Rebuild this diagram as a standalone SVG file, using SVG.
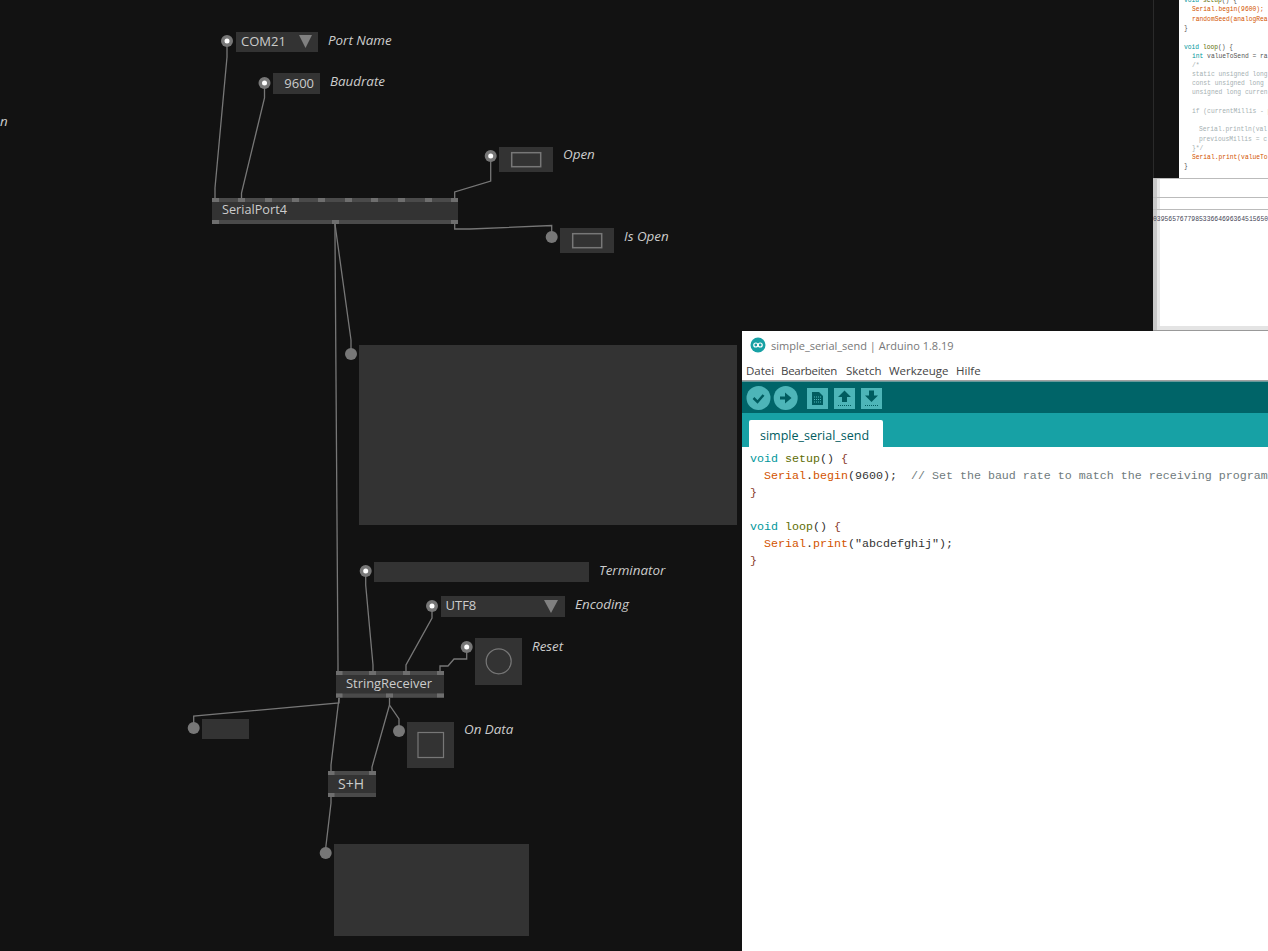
<svg xmlns="http://www.w3.org/2000/svg" width="1268" height="951" viewBox="0 0 1268 951">
<style>
.ui{font-family:"Open Sans","Noto Sans","Liberation Sans",sans-serif}
.box{fill:#333}
.bar{fill:#4a4a4a}
.pin{fill:#6e6e6e}
.val{font-family:"Open Sans","Liberation Sans",sans-serif;font-size:13px;fill:#ccc}
.lbl{font-family:"Open Sans","Liberation Sans",sans-serif;font-size:13.400px;font-style:italic;fill:#ccc}
.name{font-family:"Open Sans","Liberation Sans",sans-serif;font-size:12.700px;fill:#ccc}
.dot{fill:#777}
.in{fill:#fff}
.tri{fill:#808080}
.sh{fill:none;stroke:#777;stroke-width:1.5}
.wire{fill:none;stroke:#777;stroke-width:1.3}
.menu{font-family:"Open Sans","Liberation Sans",sans-serif;font-size:11.500px;fill:#444}
.code{font-family:"Liberation Mono",monospace;font-size:11.670px;white-space:pre;fill:#333}
.mini{font-family:"Liberation Mono",monospace;font-size:6.300px;white-space:pre;fill:#555}
.k{fill:#00979c}.f{fill:#5e6d03}.o{fill:#d35400}.c{fill:#6f7b7d}.cm{fill:#a5b0b2}.b{fill:#8a3a2a}
.btn{fill:#4db5b8}
.ic{fill:#005c5f}
</style>
<rect width="1268" height="951" fill="#121212"/>

<g id="bg-serial-monitor">
<rect x="1153" y="0" width="1" height="178" fill="#2a2a2a"/>
<rect x="1179" y="0" width="89" height="178" fill="#fff"/>
<text class="mini" x="1184" y="2"><tspan class="k">void</tspan> <tspan class="f">setup</tspan>() {</text>
<text class="mini o" x="1192" y="11">Serial.begin(9600);</text>
<text class="mini o" x="1192" y="20.500">randomSeed(analogRea</text>
<text class="mini" x="1184" y="30">}</text>
<text class="mini" x="1184" y="48.500"><tspan class="k">void</tspan> <tspan class="f">loop</tspan>() {</text>
<text class="mini" x="1192" y="57.500"><tspan class="k">int</tspan> valueToSend = ra</text>
<text class="mini cm" x="1192" y="67">/*</text>
<text class="mini cm" x="1192" y="76">static unsigned long</text>
<text class="mini cm" x="1192" y="85">const unsigned long</text>
<text class="mini cm" x="1192" y="94">unsigned long curren</text>
<text class="mini cm" x="1192" y="113">if (currentMillis - p</text>
<text class="mini cm" x="1199" y="131">Serial.println(val</text>
<text class="mini cm" x="1199" y="141">previousMillis = c</text>
<text class="mini cm" x="1192" y="150">}*/</text>
<text class="mini o" x="1192" y="159">Serial.print(valueTo</text>
<text class="mini" x="1184" y="168">}</text>
<rect x="1153" y="178" width="115" height="153" fill="#fff"/>
<rect x="1153" y="178" width="4" height="153" fill="#c8c8c8"/>
<rect x="1157" y="178" width="3" height="153" fill="#e8e8e8"/>
<rect x="1153" y="178" width="115" height="1" fill="#bbb"/>
<rect x="1153" y="197" width="115" height="1" fill="#bbb"/>
<rect x="1153" y="209" width="115" height="1" fill="#bbb"/>
<rect x="1157" y="326" width="111" height="4" fill="#e4e4e4"/>
<rect x="1153" y="330" width="115" height="1" fill="#999"/>
<text x="1153" y="220.500" font-family="Liberation Mono,monospace" font-size="6.400" fill="#445">039565767798533664696364515650</text>
</g>

<g id="connectors">
<path class="wire" d="M227 45V57L215 188V198"/>
<path class="wire" d="M264.500 87V98L241.500 193V198"/>
<path class="wire" d="M490.700 160V181L454.700 192V198"/>
<path class="wire" d="M454.700 224V229H470L551.700 225.500V232"/>
<path class="wire" d="M335 224L351 340V349"/>
<path class="wire" d="M335 224V235L338 665V671"/>
<path class="wire" d="M365.700 575V585L373 665V671"/>
<path class="wire" d="M432 610V618L406 665V671"/>
<path class="wire" d="M466.700 651V659H454L448 666H440V671"/>
<path class="wire" d="M339 698V703L193.700 716V723"/>
<path class="wire" d="M339 698L331 765V772"/>
<path class="wire" d="M389.500 698V705L399 719V726"/>
<path class="wire" d="M389.500 705L372 767V772"/>
<path class="wire" d="M331 797V803L325.700 848"/>
</g>

<g id="edge-label"><text class="lbl" x="0" y="126">n</text></g>

<g id="port-name">
<circle class="dot" cx="227" cy="41" r="6"/><circle class="in" cx="227" cy="41" r="2.500"/>
<rect class="box" x="236" y="32" width="82" height="20"/>
<text class="val" x="241" y="46">COM21</text>
<path class="tri" d="M299 35H312L305.500 48Z"/>
<text class="lbl" x="328" y="45">Port Name</text>
</g>
<g id="baudrate">
<circle class="dot" cx="264.500" cy="83" r="6"/><circle class="in" cx="264.500" cy="83" r="2.500"/>
<rect class="box" x="273" y="73" width="47" height="21"/>
<text class="val" x="314" y="88" text-anchor="end">9600</text>
<text class="lbl" x="330" y="86">Baudrate</text>
</g>
<g id="serialport">
<rect class="box" x="212" y="198" width="246" height="26"/>
<rect class="bar" x="212" y="198" width="246" height="4"/>
<rect class="bar" x="212" y="220" width="246" height="4"/>
<path class="pin" d="M212 198h7v4h-7zM238 198h7v4h-7zM265 198h7v4h-7zM292 198h7v4h-7zM318 198h7v4h-7zM345 198h7v4h-7zM371 198h7v4h-7zM398 198h7v4h-7zM425 198h7v4h-7zM451 198h7v4h-7zM212 220h7v4h-7zM332 220h7v4h-7zM451 220h7v4h-7z"/>
<text class="name" x="222" y="214">SerialPort4</text>
</g>
<g id="open">
<circle class="dot" cx="490.700" cy="156" r="6"/><circle class="in" cx="490.700" cy="156" r="2.500"/>
<rect class="box" x="499" y="147" width="54" height="25"/>
<rect class="sh" x="511.700" y="152.700" width="29" height="14"/>
<text class="lbl" x="563" y="159">Open</text>
</g>
<g id="is-open">
<circle class="dot" cx="551.700" cy="237" r="6"/>
<rect class="box" x="560" y="228" width="54" height="25"/>
<rect class="sh" x="572.700" y="233.700" width="29" height="14"/>
<text class="lbl" x="624" y="241">Is Open</text>
</g>
<g id="output-large">
<circle class="dot" cx="351" cy="354" r="6"/>
<rect class="box" x="359" y="345" width="378" height="180"/>
</g>
<g id="terminator">
<circle class="dot" cx="365.700" cy="571" r="6"/><circle class="in" cx="365.700" cy="571" r="2.500"/>
<rect class="box" x="374" y="562" width="215" height="20"/>
<text class="lbl" x="599" y="575">Terminator</text>
</g>
<g id="encoding">
<circle class="dot" cx="432" cy="606" r="6"/><circle class="in" cx="432" cy="606" r="2.500"/>
<rect class="box" x="441" y="596" width="124" height="21"/>
<text class="val" x="445.500" y="610">UTF8</text>
<path class="tri" d="M544 600H558L551 613Z"/>
<text class="lbl" x="575" y="609">Encoding</text>
</g>
<g id="reset">
<circle class="dot" cx="466.700" cy="647" r="6"/><circle class="in" cx="466.700" cy="647" r="2.500"/>
<rect class="box" x="475" y="638" width="47" height="47"/>
<circle cx="498.700" cy="661.300" r="12.500" fill="none" stroke="#777" stroke-width="1.200"/>
<text class="lbl" x="532" y="651">Reset</text>
</g>
<g id="stringreceiver">
<rect class="box" x="336" y="671" width="108" height="27"/>
<rect class="bar" x="336" y="671" width="108" height="4"/>
<rect class="bar" x="336" y="693.500" width="108" height="4"/>
<path class="pin" d="M336 671h6.500v4h-6.500zM369 671h7v4h-7zM403 671h7v4h-7zM437 671h7v4h-7zM336 693.500h6.500v4h-6.500zM386 693.500h7v4h-7zM437 693.500h7v4h-7z"/>
<text class="name" x="346" y="688" font-size="13" style="font-size:12.900px">StringReceiver</text>
</g>
<g id="output-small">
<circle class="dot" cx="193.700" cy="728" r="6"/>
<rect class="box" x="202" y="719" width="47" height="20"/>
</g>
<g id="on-data">
<circle class="dot" cx="399" cy="731" r="6"/>
<rect class="box" x="407" y="722" width="47" height="46"/>
<rect x="418" y="732.500" width="25.500" height="25" fill="none" stroke="#777" stroke-width="1.200"/>
<text class="lbl" x="464" y="734">On Data</text>
</g>
<g id="sample-hold">
<rect class="box" x="328" y="771" width="48" height="26"/>
<rect class="bar" x="328" y="771" width="48" height="4"/>
<rect class="bar" x="328" y="793" width="48" height="4"/>
<path class="pin" d="M328 771h6.500v4h-6.500zM369 771h7v4h-7zM328 793h6.500v4h-6.500z"/>
<text class="name" x="338" y="788.500" style="font-size:14px">S+H</text>
</g>
<g id="output-bottom">
<circle class="dot" cx="325.700" cy="853" r="6"/>
<rect class="box" x="334" y="844" width="195" height="92"/>
</g>

<g id="arduino-window">
<rect x="742" y="331" width="526" height="620" fill="#fff"/>
<circle cx="758" cy="345" r="7.500" fill="#17a1a5"/>
<circle cx="755.800" cy="345" r="2" fill="none" stroke="#fff" stroke-width="1.200"/>
<circle cx="760.200" cy="345" r="2" fill="none" stroke="#fff" stroke-width="1.200"/>
<text class="ui" x="771" y="350" font-size="11" fill="#777">simple_serial_send | Arduino 1.8.19</text>
<text class="menu" x="746" y="375">Datei</text>
<text class="menu" x="781" y="375" letter-spacing="-0.300">Bearbeiten</text>
<text class="menu" x="846" y="375">Sketch</text>
<text class="menu" x="889" y="375">Werkzeuge</text>
<text class="menu" x="956" y="375">Hilfe</text>
<rect x="742" y="380" width="526" height="1.500" fill="#a0a0a0"/>
<rect x="742" y="381.500" width="526" height="32" fill="#006468"/>
<rect x="742" y="413" width="526" height="34" fill="#17a1a5"/>
<circle class="btn" cx="758.500" cy="398" r="12"/>
<circle class="btn" cx="785.700" cy="398" r="12"/>
<path d="M753.500 398l4 4 6-7" fill="none" stroke="#005c5f" stroke-width="2.500"/>
<path class="ic" d="M780 396.500h5v-4l6.500 5.500-6.500 5.500v-4h-5z"/>
<rect class="btn" x="807" y="388" width="21" height="21"/>
<rect class="btn" x="834" y="388" width="21" height="21"/>
<rect class="btn" x="861" y="388" width="21" height="21"/>
<path class="ic" d="M812 392h7l4 4v9h-11z"/>
<path d="M814 397h7M814 399.500h7M814 402h7" stroke="#4db5b8" stroke-width="1" stroke-dasharray="1 1"/>
<path class="ic" d="M844.500 390.500l6.500 6.500h-4v5h-5v-5h-4z"/>
<path d="M838 405.500h13" stroke="#005c5f" stroke-width="1" stroke-dasharray="1 1"/>
<path class="ic" d="M869 390.500h5v5h4l-6.500 6.500-6.500-6.500h4z"/>
<path d="M865 405.500h13" stroke="#005c5f" stroke-width="1" stroke-dasharray="1 1"/>
<path d="M749 447v-25a2 2 0 0 1 2-2h130a2 2 0 0 1 2 2v25z" fill="#fff"/>
<text class="ui" x="760" y="440" font-size="12.500" fill="#005c5f">simple_serial_send</text>
<text class="code" x="750" y="462"><tspan class="k">void</tspan> <tspan class="f">setup</tspan>() <tspan class="b">{</tspan></text>
<text class="code" x="750" y="479">  <tspan class="o">Serial</tspan>.<tspan class="o">begin</tspan>(9600);  <tspan class="c">// Set the baud rate to match the receiving program</tspan></text>
<text class="code" x="750" y="496"><tspan class="b">}</tspan></text>
<text class="code" x="750" y="530"><tspan class="k">void</tspan> <tspan class="f">loop</tspan>() <tspan class="b">{</tspan></text>
<text class="code" x="750" y="547">  <tspan class="o">Serial</tspan>.<tspan class="o">print</tspan>("abcdefghij");</text>
<text class="code" x="750" y="564"><tspan class="b">}</tspan></text>
</g>
</svg>
